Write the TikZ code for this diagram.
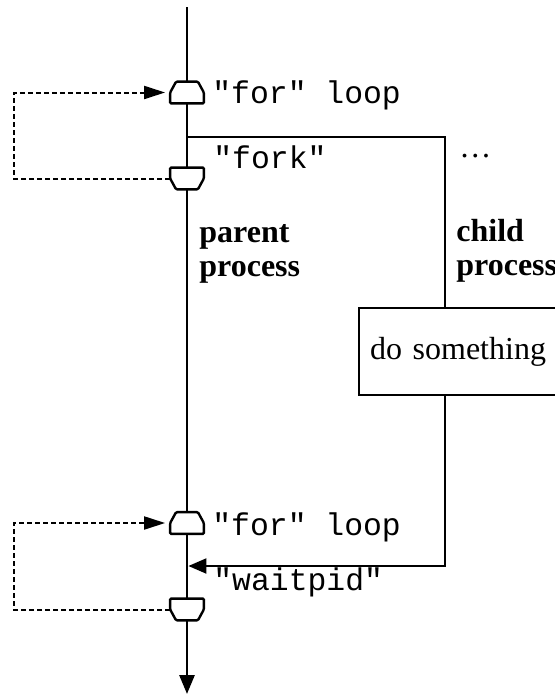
\documentclass[tikz,border=0pt]{standalone}
\usepackage{fontspec}
\setmainfont{Liberation Serif}
\setmonofont{Liberation Mono}
\usetikzlibrary{arrows.meta}

\tikzset{
  flow/.style={line width=1.4pt},
  branch/.style={line width=1pt},
  loopback/.style={line width=1pt, dash pattern=on 2.5pt off 1.5pt,
    -{Triangle[length=10.5pt,width=6.5pt]}, shorten >=2.5pt},
  loopmark/.style={rectangle, minimum width=16.5pt, minimum height=10.5pt, inner sep=0pt},
  markline/.style={draw, line width=1.2pt, fill=white, rounded corners=0.6pt},
  workbox/.style={draw, line width=1pt, minimum height=43.5pt, text width=110pt,
    inner xsep=5.5pt, align=left, font=\fontsize{16pt}{17pt}\selectfont},
  codelabel/.style={anchor=base west, inner sep=0pt, font=\ttfamily\fontsize{15.7pt}{17pt}\selectfont},
  proclabel/.style={anchor=base west, inner sep=0pt, align=left,
    font=\bfseries\fontsize{16pt}{17pt}\selectfont},
}

\begin{document}
\begin{tikzpicture}[x=0.5pt,y=-0.5pt]
\useasboundingbox (0,0) rectangle (554,696);
\coordinate (start) at (187,7);
\coordinate (stop) at (187,694);
\coordinate (edge) at (14,0);
\coordinate (split) at (187,137);
\coordinate (childtop) at (445,137);
\coordinate (join) at (445,566);

\node [loopmark] (for1) at (187,92.5) {};
\node [loopmark] (fork) at (187,178.5) {};
\node [loopmark] (for2) at (187,523) {};
\node [loopmark] (wait) at (187,609.5) {};
\node [workbox] (work) at (480,351.5) {do something};

% parent process
\draw [flow] (start) -- (for1);
\draw [flow] (for1) -- (fork);
\draw [flow] (fork) -- (for2);
\draw [flow] (for2) -- (wait);
\draw [flow, -{Triangle[length=9.5pt,width=7.5pt]}] (wait) -- (stop);

% child process
\draw [branch] (split) -- (childtop) -- (childtop |- work.north);
\draw [branch, -{Triangle[length=9pt,width=7.5pt]}, shorten >=0.7pt]
  (childtop |- work.south) -- (join) -- (join -| split);

% loops
\draw [loopback] (fork.west) -- (fork.west -| edge) |- (for1.west);
\draw [loopback] (wait.west) -- (wait.west -| edge) |- (for2.west);

\foreach \m in {for1,for2}
  \draw [markline] (\m.south west) -- ([yshift=-5.5pt]\m.north west) -- ([xshift=3pt]\m.north west)
    -- ([xshift=-3pt]\m.north east) -- ([yshift=-5.5pt]\m.north east) -- (\m.south east) -- cycle;
\foreach \m in {fork,wait}
  \draw [markline] (\m.north west) -- ([yshift=5.5pt]\m.south west) -- ([xshift=3pt]\m.south west)
    -- ([xshift=-3pt]\m.south east) -- ([yshift=5.5pt]\m.south east) -- (\m.north east) -- cycle;

\node [codelabel] (for1lbl) at (212,103) {"for" loop};
\node [codelabel] (forklbl) at (213,168) {"fork"};
\node [codelabel] (for2lbl) at (212,535) {"for" loop};
\node [codelabel] (waitlbl) at (213,590) {"waitpid"};
\node [proclabel] (parentlbl) at (199,276) {parent\\process};
\node [proclabel] (childlbl) at (456,275) {child\\process};
\node [anchor=base west, inner sep=0pt, font=\fontsize{16pt}{17pt}\selectfont] (dots) at (459,157) {…};
\end{tikzpicture}
\end{document}
